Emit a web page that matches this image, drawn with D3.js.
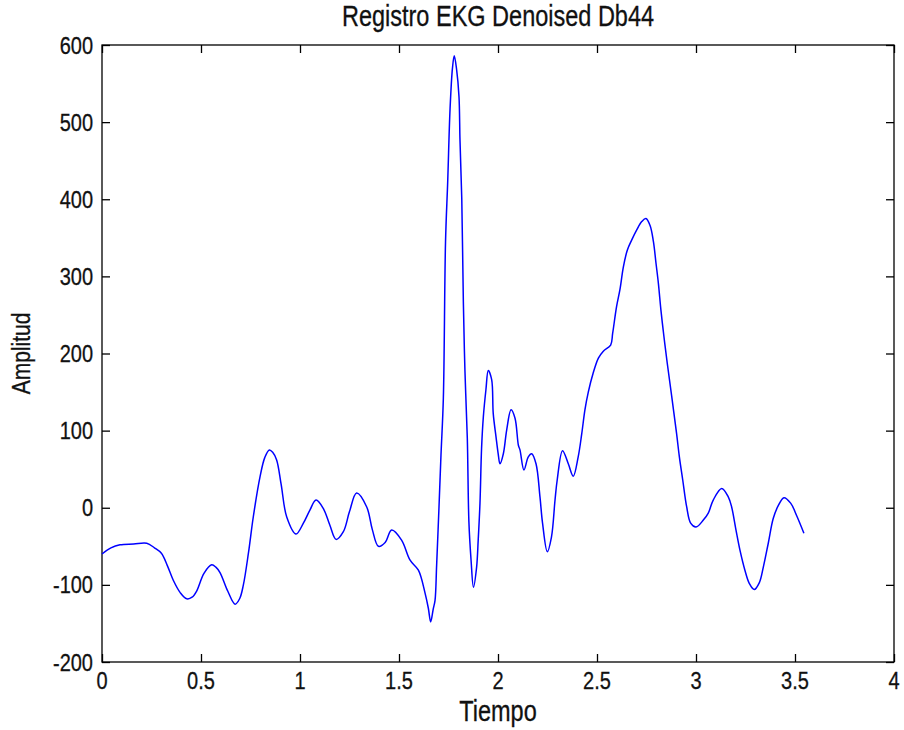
<!DOCTYPE html>
<html>
<head>
<meta charset="utf-8">
<script src="https://cdn.jsdelivr.net/npm/d3@7"></script>
<style>
  html, body { margin: 0; padding: 0; background: #fff; }
  svg { display: block; }
  text { font-family: "Liberation Sans", Arial, sans-serif; fill: #111; stroke: #111; stroke-width: 0.25; }
</style>
</head>
<body>
<svg id="chart" width="904" height="730"></svg>
<script>
// Denoised EKG record (Daubechies 44 wavelet): time in seconds, amplitude
const tiempo = [
  0.000, 0.045, 0.091, 0.160, 0.226, 0.265, 0.300, 0.330, 0.360, 0.395, 0.428, 0.455, 0.478, 0.515, 0.554, 0.575,
  0.596, 0.635, 0.672, 0.695, 0.714, 0.740, 0.764, 0.798, 0.822, 0.845, 0.862, 0.882, 0.905, 0.933,
  0.980, 1.017, 1.050, 1.081, 1.118, 1.150, 1.182, 1.219, 1.250, 1.286, 1.337, 1.365, 1.396, 1.430,
  1.463, 1.513, 1.556, 1.598, 1.631, 1.648, 1.660, 1.673, 1.682, 1.690, 1.702, 1.712, 1.724,
  1.735, 1.746, 1.758, 1.770, 1.779, 1.791, 1.803, 1.808, 1.817, 1.825, 1.833, 1.845, 1.853,
  1.864, 1.876, 1.892, 1.900, 1.909, 1.917, 1.926, 1.939, 1.951, 1.968, 1.976, 1.990, 2.001,
  2.010, 2.027, 2.044, 2.066, 2.086, 2.103, 2.111, 2.131, 2.153, 2.170, 2.192, 2.212, 2.225,
  2.249, 2.270, 2.288, 2.299, 2.326, 2.355, 2.380, 2.405, 2.423, 2.439, 2.456, 2.480, 2.507,
  2.532, 2.569, 2.579, 2.599, 2.616, 2.633, 2.653, 2.675, 2.700, 2.726, 2.747, 2.768, 2.785,
  2.798, 2.810, 2.823, 2.838, 2.855, 2.877, 2.902, 2.916, 2.933, 2.953, 2.973, 3.000, 3.037,
  3.062, 3.087, 3.130, 3.163, 3.180, 3.202, 3.222, 3.247, 3.269, 3.294, 3.320, 3.340, 3.365,
  3.390, 3.416, 3.444, 3.478, 3.508, 3.545
];
const amplitud = [
  -60, -52, -48, -47, -46, -52, -59, -75, -94, -110, -118, -116, -108, -85, -74, -77,
  -84, -108, -125, -118, -100, -58, -12, 40, 65, 75, 72, 62, 30, -12,
  -34, -20, -3, 10, -1, -22, -41, -31, -5, 19, 1, -28, -50, -45,
  -29, -42, -68, -81, -110, -130, -148, -131, -120, -75, 1, 68, 142,
  345, 423, 518, 570, 586, 568, 533, 477, 401, 267, 178, 90, -18,
  -68, -103, -77, -42, 6, 77, 118, 153, 178, 166, 122, 92, 70,
  57, 70, 101, 127, 116, 81, 75, 49, 66, 70, 57, 14, -20,
  -57, -38, 10, 36, 74, 57, 41, 66, 96, 127, 150, 174, 194,
  203, 211, 226, 261, 283, 312, 334, 347, 360, 371, 375, 366, 345,
  317, 291, 256, 222, 187, 145, 96, 66, 36, 1, -20, -25, -16,
  -7, 10, 25, 14, 1, -29, -55, -81, -98, -106, -97, -77, -46,
  -14, 3, 13, 6, -10, -33
];

const xTicks = [0, 0.5, 1, 1.5, 2, 2.5, 3, 3.5, 4];
const yTicks = [-200, -100, 0, 100, 200, 300, 400, 500, 600];

const svg = d3.select("#chart");
const plot = { left: 102, right: 894, top: 45, bottom: 662 };

const x = d3.scaleLinear().domain([0, 4]).range([plot.left, plot.right]);
const y = d3.scaleLinear().domain([-200, 600]).range([plot.bottom, plot.top]);

const tickLen = 8;
const stretch = 1.22; // tall, narrow glyphs

// text whose glyphs are stretched vertically about the baseline point (px, py)
function label(g, px, py, str, size, anchor, rotate) {
  const rot = rotate ? ` rotate(${rotate})` : "";
  return g.append("text")
    .attr("transform", `translate(${px},${py})${rot} scale(1,${stretch})`)
    .attr("text-anchor", anchor)
    .attr("font-size", size)
    .text(str);
}

// tick marks on all four sides, pointing inward
const gx = svg.append("g")
  .attr("transform", `translate(0,${plot.bottom})`)
  .call(d3.axisBottom(x).tickValues(xTicks).tickFormat("").tickSizeInner(-tickLen).tickSizeOuter(0));
const gy = svg.append("g")
  .attr("transform", `translate(${plot.left},0)`)
  .call(d3.axisLeft(y).tickValues(yTicks).tickFormat("").tickSizeInner(-tickLen).tickSizeOuter(0));
const gxt = svg.append("g")
  .attr("transform", `translate(0,${plot.top})`)
  .call(d3.axisTop(x).tickValues(xTicks).tickFormat("").tickSizeInner(-tickLen).tickSizeOuter(0));
const gyr = svg.append("g")
  .attr("transform", `translate(${plot.right},0)`)
  .call(d3.axisRight(y).tickValues(yTicks).tickFormat("").tickSizeInner(-tickLen).tickSizeOuter(0));

[gx, gy, gxt, gyr].forEach(g => {
  g.select(".domain").remove();
  g.selectAll(".tick line").attr("stroke", "#000").attr("stroke-width", 1.3);
  g.selectAll(".tick text").remove();
});

// tick labels
const labels = svg.append("g");
xTicks.forEach(t => label(labels, x(t), 689, String(t), 20, "middle"));
yTicks.forEach(v => label(labels, plot.left - 9, y(v) + 8.5, String(v), 20, "end"));

// axes box
svg.append("rect")
  .attr("x", plot.left).attr("y", plot.top)
  .attr("width", plot.right - plot.left).attr("height", plot.bottom - plot.top)
  .attr("fill", "none").attr("stroke", "#000").attr("stroke-width", 1.3);

// signal trace
const pts = tiempo.map((t, i) => [t, amplitud[i]]);
const line = d3.line()
  .x(d => x(d[0]))
  .y(d => y(d[1]))
  .curve(d3.curveCatmullRom.alpha(0.5));

svg.append("path")
  .datum(pts)
  .attr("d", line)
  .attr("fill", "none")
  .attr("stroke", "#0000ff")
  .attr("stroke-width", 1.5)
  .attr("stroke-linejoin", "round");

// title and axis labels
label(svg, (plot.left + plot.right) / 2, 26, "Registro EKG Denoised Db44", 23.5, "middle");
label(svg, (plot.left + plot.right) / 2, 721, "Tiempo", 23.5, "middle");
label(svg, 30, (plot.top + plot.bottom) / 2, "Amplitud", 21, "middle", -90);
</script>
</body>
</html>
